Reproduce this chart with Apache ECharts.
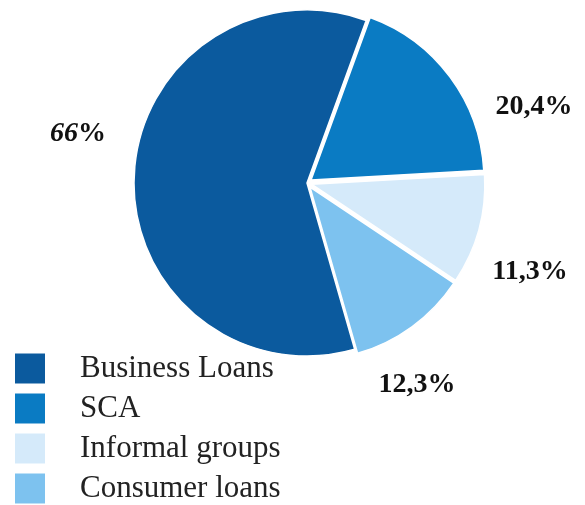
<!DOCTYPE html>
<html>
<head>
<meta charset="utf-8">
<script src="https://cdn.jsdelivr.net/npm/echarts@6/dist/echarts.min.js"></script>
<style>
  html, body { margin: 0; padding: 0; background: #ffffff; }
  #chart { width: 585px; height: 505px; }
</style>
</head>
<body>
<div id="chart"></div>
<script>
// Loan portfolio shares (slice order runs clockwise from the top)
const categories = ['SCA', 'Informal groups', 'Consumer loans', 'Business Loans'];
const shares = [20.4, 11.3, 12.3, 66];
const legendOrder = ['Business Loans', 'SCA', 'Informal groups', 'Consumer loans'];

const colors = {
  'Business Loans': '#0b5a9e',
  'SCA': '#0a7bc3',
  'Informal groups': '#d5eafa',
  'Consumer loans': '#7dc2ef'
};
// slices pulled slightly away from the centre
const pulledOut = { 'SCA': true, 'Informal groups': true, 'Consumer loans': true };

// where each percentage label sits
const labelSpots = {
  'SCA': [534, 107],
  'Informal groups': [530, 272],
  'Consumer loans': [417, 385],
  'Business Loans': [78, 134]
};

const serif = '"Liberation Serif", "Times New Roman", serif';
const fmt = v => String(v).replace('.', ',');

const pieBase = {
  type: 'pie',
  center: [307, 183],
  radius: 173,
  startAngle: 70,
  clockwise: true,
  emphasis: { disabled: true }
};

const chart = echarts.init(document.getElementById('chart'), null, { renderer: 'canvas' });

chart.setOption({
  animation: false,
  backgroundColor: '#ffffff',
  legend: {
    data: legendOrder,
    orient: 'vertical',
    left: 15,
    top: 353,
    padding: 0,
    icon: 'rect',
    itemWidth: 30,
    itemHeight: 30,
    itemGap: 9,
    selectedMode: false,
    itemStyle: { borderWidth: 0 },
    textStyle: {
      fontFamily: serif,
      fontSize: 31,
      color: '#222222',
      padding: [0, 0, 0, 30],
      lineHeight: 30
    }
  },
  series: [
    // the slices
    Object.assign({}, pieBase, {
      selectedMode: 'multiple',
      selectedOffset: 5,
      itemStyle: { borderColor: '#ffffff', borderWidth: 1.5 },
      label: { show: false },
      labelLine: { show: false },
      data: categories.map((name, i) => ({
        name: name,
        value: shares[i],
        selected: !!pulledOut[name],
        itemStyle: { color: colors[name] }
      }))
    }),
    // percentage labels for the same slices
    Object.assign({}, pieBase, {
      silent: true,
      itemStyle: { color: 'rgba(0,0,0,0)' },
      label: {
        show: true,
        position: 'outside',
        fontFamily: serif,
        fontWeight: 'bold',
        fontSize: 28,
        color: '#111111',
        formatter: p => p.name === 'Business Loans'
          ? '{it|' + fmt(p.value) + '}{pc|%}'
          : fmt(p.value) + '%',
        rich: {
          it: { fontFamily: serif, fontWeight: 'bold', fontStyle: 'italic', fontSize: 28, color: '#111111' },
          pc: { fontFamily: serif, fontWeight: 'bold', fontSize: 28, color: '#111111' }
        }
      },
      labelLine: { show: false },
      labelLayout: params => {
        const spot = labelSpots[categories[params.dataIndex]];
        return { x: spot[0], y: spot[1], align: 'center', verticalAlign: 'middle', width: 120 };
      },
      data: categories.map((name, i) => ({ name: name, value: shares[i] }))
    })
  ]
});
</script>
</body>
</html>
